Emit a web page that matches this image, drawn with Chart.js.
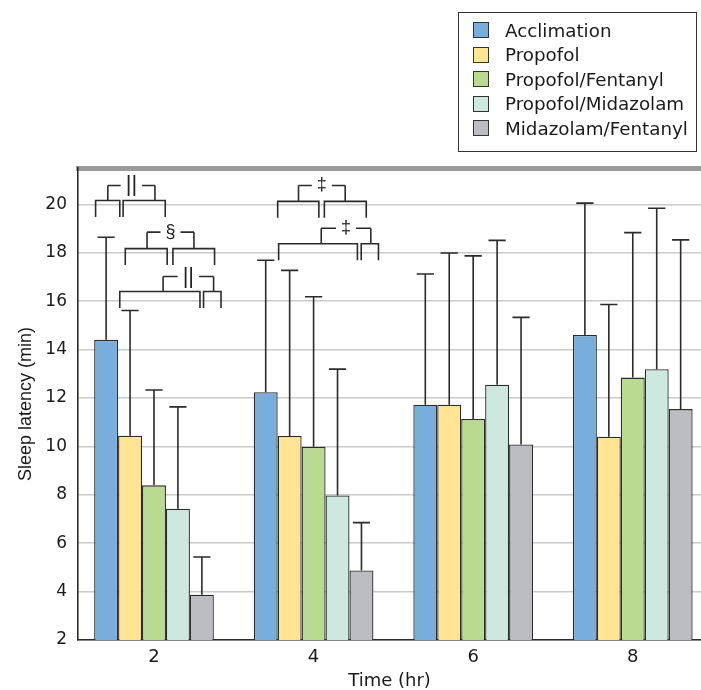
<!DOCTYPE html>
<html>
<head>
<meta charset="utf-8">
<script src="https://cdn.jsdelivr.net/npm/chart.js@4.4.1/dist/chart.umd.min.js"></script>
<style>
  body { margin: 0; background: #fff; }
  #wrap { position: relative; width: 701px; height: 690px; }
  #legend {
    position: absolute; left: 458px; top: 12px; width: 239px; height: 140px;
    border: 1px solid #333; box-sizing: border-box; padding-top: 5px;
    font-family: "DejaVu Sans", sans-serif; font-size: 18.3px; color: #1a1a1a;
  }
  .item { display: flex; align-items: center; height: 24.5px; padding-left: 14px; }
  .sw { width: 16px; height: 16px; border: 1px solid #333; box-sizing: border-box; margin-right: 16px; }
</style>
</head>
<body>
<div id="wrap">
  <canvas id="chart" width="701" height="690"></canvas>
  <div id="legend"></div>
</div>
<script>
const times = [2, 4, 6, 8];
const seriesNames = ['Acclimation', 'Propofol', 'Propofol/Fentanyl', 'Propofol/Midazolam', 'Midazolam/Fentanyl'];

// mean sleep latency (min)
const acclimation = [14.4, 12.24, 11.72, 14.6];
const propofol = [10.44, 10.43, 11.72, 10.4];
const propofolFentanyl = [8.39, 9.98, 11.13, 12.84];
const propofolMidazolam = [7.42, 7.97, 12.55, 13.19];
const midazolamFentanyl = [3.87, 4.87, 10.08, 11.54];

// upper error (SD)
const acclimationSD = [4.24, 5.45, 5.4, 5.45];
const propofolSD = [5.17, 6.84, 6.27, 5.46];
const propofolFentanylSD = [3.94, 6.2, 6.74, 5.99];
const propofolMidazolamSD = [4.21, 5.22, 5.96, 6.65];
const midazolamFentanylSD = [1.56, 1.98, 5.25, 6.99];

// significance brackets: time point, symbol, levels, spans counted in bar widths from the group's left edge
const bracketTime = [2, 2, 2, 4, 4];
const bracketSymbol = ['||', '§', '||', '‡', '‡'];
const bracketLow = [20.16, 18.17, 16.4, 20.12, 18.37];
const bracketHigh = [20.78, 18.85, 17.02, 20.78, 19.01];
const bracketLeft = [[0.06, 1.07, 0.57], [1.30, 3.05, 2.21], [1.07, 4.42, 2.88], [1.0, 2.72, 1.87], [1.04, 4.33, 2.82]];
const bracketRight = [[1.21, 2.97, 2.54], [3.29, 5.03, 4.17], [4.57, 5.30, 4.99], [2.95, 4.70, 3.82], [4.49, 5.21, 4.89]];
const legDrop = 0.68;

const colors = ['#79addb', '#fee493', '#b9da91', '#cce8df', '#bcbdc1'];
const means = [acclimation, propofol, propofolFentanyl, propofolMidazolam, midazolamFentanyl];
const sds = [acclimationSD, propofolSD, propofolFentanylSD, propofolMidazolamSD, midazolamFentanylSD];

const wideFont = { family: '"DejaVu Sans", sans-serif', size: 17 };
const textColor = '#1a1a1a';

const errorBars = {
    id: 'errorBars',
    afterDatasetsDraw(chart) {
        const ctx = chart.ctx, y = chart.scales.y;
        ctx.save();
        ctx.strokeStyle = '#2b2b2b';
        ctx.lineWidth = 1.6;
        chart.data.datasets.forEach((ds, i) => {
            chart.getDatasetMeta(i).data.forEach((bar, j) => {
                const top = y.getPixelForValue(ds.data[j].y + ds.sd[j]);
                const half = bar.width * 0.36;
                ctx.beginPath();
                ctx.moveTo(bar.x, bar.y);
                ctx.lineTo(bar.x, top);
                ctx.moveTo(bar.x - half, top);
                ctx.lineTo(bar.x + half, top);
                ctx.stroke();
            });
        });
        ctx.restore();
    }
};

const brackets = {
    id: 'brackets',
    afterDraw(chart) {
        const ctx = chart.ctx, y = chart.scales.y;
        const first = chart.getDatasetMeta(0).data;
        ctx.save();
        ctx.strokeStyle = '#2b2b2b';
        ctx.fillStyle = '#222';
        ctx.lineWidth = 1.6;
        ctx.textAlign = 'center';
        ctx.textBaseline = 'middle';
        bracketTime.forEach((t, k) => {
            const bar = first[times.indexOf(t)];
            const x0 = bar.x - bar.width / 2;
            const px = s => x0 + s * bar.width;
            const low = y.getPixelForValue(bracketLow[k]);
            const leg = y.getPixelForValue(bracketLow[k] - legDrop);
            const high = y.getPixelForValue(bracketHigh[k]);
            ctx.font = (bracketSymbol[k] === '||' ? 22 : 18) + 'px "Liberation Sans", Arial, sans-serif';
            ctx.beginPath();
            [bracketLeft[k], bracketRight[k]].forEach(([a, b, c]) => {
                ctx.moveTo(px(a), leg);
                ctx.lineTo(px(a), low);
                ctx.lineTo(px(b), low);
                ctx.lineTo(px(b), leg);
                ctx.moveTo(px(c), low);
                ctx.lineTo(px(c), high);
            });
            const lc = px(bracketLeft[k][2]), rc = px(bracketRight[k][2]);
            const mid = (lc + rc) / 2;
            const gap = ctx.measureText(bracketSymbol[k]).width / 2 + 5;
            ctx.moveTo(lc, high);
            ctx.lineTo(mid - gap, high);
            ctx.moveTo(mid + gap, high);
            ctx.lineTo(rc, high);
            ctx.stroke();
            ctx.fillText(bracketSymbol[k], mid, high);
        });
        ctx.restore();
    }
};

const chart = new Chart(document.getElementById('chart'), {
    type: 'bar',
    data: {
        datasets: seriesNames.map((name, i) => ({
            label: name,
            data: times.map((t, j) => ({ x: t, y: means[i][j] })),
            sd: sds[i],
            backgroundColor: colors[i],
            borderColor: '#2b2b2b',
            borderWidth: 1.3,
            xAxisID: 'x',
            yAxisID: 'y',
            categoryPercentage: 0.75,
            barPercentage: 1.0,
        })),
    },
    options: {
        responsive: false,
        animation: false,
        layout: { padding: { top: 168, left: 0, right: 0, bottom: 0 } },
        plugins: { legend: { display: false }, tooltip: { enabled: false } },
        scales: {
            x: {
                type: 'linear', min: 1.0476, max: 8.855, offset: false,
                grid: { display: false, drawTicks: false, offset: false },
                border: { color: '#2b2b2b', width: 1.6 },
                afterBuildTicks: s => { s.ticks = times.map(v => ({ value: v })); },
                ticks: { font: { family: wideFont.family, size: 18 }, color: textColor, padding: 7 },
                title: { display: true, text: 'Time (hr)', font: { family: wideFont.family, size: 18 }, color: textColor, padding: { top: 0, bottom: -2 } },
                afterFit: s => { s.height = 50; },
            },
            xTop: {
                type: 'linear', position: 'top', display: true, min: 0, max: 1,
                ticks: { display: false },
                grid: { display: false },
                border: { color: '#9b9b9b', width: 5 },
                afterFit: s => { s.height = 0; },
            },
            y: {
                min: 2, max: 21.5,
                grid: { color: '#cacaca', lineWidth: 1.5, drawTicks: false },
                border: { color: '#2b2b2b', width: 1.6 },
                ticks: { stepSize: 2, includeBounds: false, padding: 11, font: wideFont, color: textColor },
                title: { display: true, text: 'Sleep latency (min)', font: { family: '"Liberation Sans", Arial, sans-serif', size: 18 }, color: textColor, padding: { top: 15, bottom: 0 } },
                afterFit: s => { s.width = 78; },
            },
        },
    },
    plugins: [errorBars, brackets],
});

// legend box, built from the chart's datasets
const legend = document.getElementById('legend');
chart.data.datasets.forEach(ds => {
    const row = document.createElement('div');
    row.className = 'item';
    const sw = document.createElement('span');
    sw.className = 'sw';
    sw.style.background = ds.backgroundColor;
    row.appendChild(sw);
    row.appendChild(document.createTextNode(ds.label));
    legend.appendChild(row);
});
</script>
</body>
</html>
